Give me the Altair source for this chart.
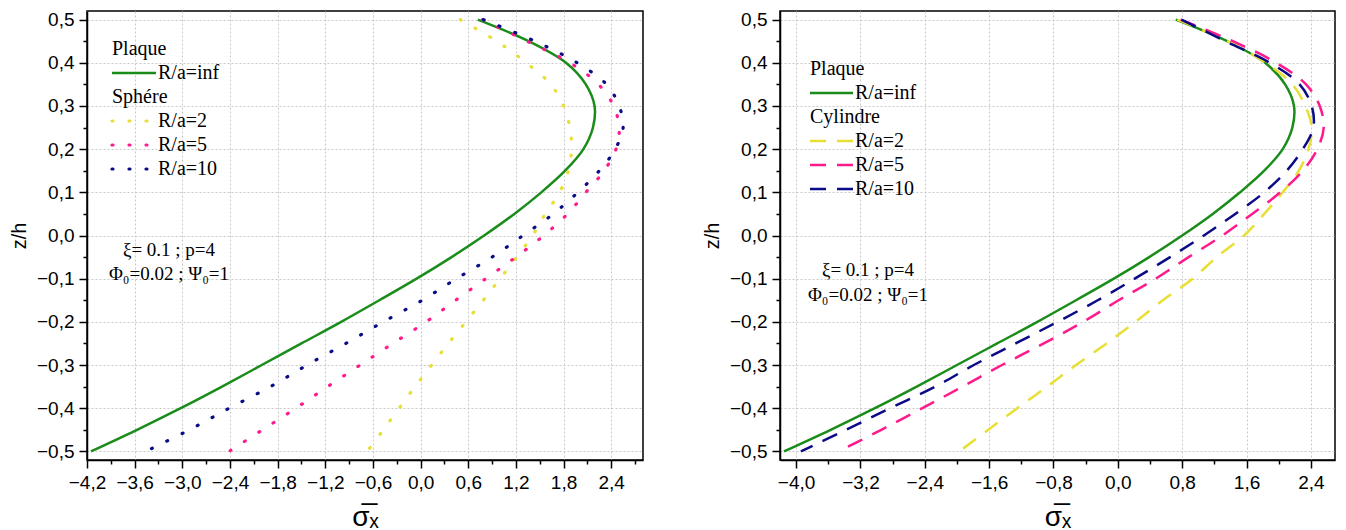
import altair as alt
import pandas as pd

# ---------------- data ----------------
z = [0.5, 0.45, 0.4, 0.35, 0.3, 0.25, 0.2, 0.15, 0.1, 0.05, 0.0,
     -0.05, -0.1, -0.15, -0.2, -0.25, -0.3, -0.35, -0.4, -0.45, -0.5]

plaque_inf = [0.72, 1.36, 1.83, 2.08, 2.19, 2.17, 2.05, 1.82, 1.52, 1.18, 0.80,
              0.39, -0.05, -0.52, -1.00, -1.50, -2.00, -2.50, -3.02, -3.57, -4.15]

sphere_2 = [0.50, 0.96, 1.33, 1.64, 1.80, 1.88, 1.90, 1.86, 1.75, 1.57, 1.41,
            1.21, 1.00, 0.79, 0.57, 0.35, 0.14, -0.07, -0.27, -0.47, -0.67]
sphere_5 = [0.78, 1.34, 1.88, 2.24, 2.43, 2.50, 2.46, 2.31, 2.08, 1.85, 1.55,
            1.20, 0.82, 0.44, 0.07, -0.35, -0.76, -1.17, -1.57, -1.99, -2.41]
sphere_10 = [0.79, 1.44, 1.97, 2.34, 2.50, 2.55, 2.45, 2.25, 1.98, 1.67, 1.29,
             0.90, 0.45, 0.02, -0.47, -0.94, -1.43, -1.89, -2.41, -2.91, -3.46]

cyl_2 = [0.74, 1.36, 1.84, 2.17, 2.33, 2.41, 2.37, 2.25, 2.05, 1.82, 1.57,
         1.23, 0.93, 0.56, 0.22, -0.14, -0.52, -0.88, -1.25, -1.61, -1.97]
cyl_5 = [0.78, 1.43, 1.97, 2.34, 2.51, 2.56, 2.48, 2.30, 2.02, 1.67, 1.30,
         0.88, 0.47, 0.01, -0.43, -0.92, -1.44, -1.93, -2.43, -2.94, -3.47]
cyl_10 = [0.79, 1.34, 1.89, 2.26, 2.41, 2.43, 2.30, 2.10, 1.82, 1.46, 1.07,
          0.65, 0.21, -0.25, -0.75, -1.27, -1.79, -2.27, -2.83, -3.38, -3.94]

labels = ["R/a=inf", "R/a=2", "R/a=5", "R/a=10"]
colors = ["#1a8c1a", "#e8df35", "#ff1a8c", "#0b0b88"]

x_ticks_left = [round(-4.2 + 0.3 * i, 1) for i in range(24)]
x_ticks_right = [round(-4.0 + 0.4 * i, 1) for i in range(17)]
y_ticks = [round(-0.5 + 0.05 * i, 2) for i in range(21)]

SANS = "Liberation Sans"
SERIF = "Liberation Serif"


def make_axis(values, test, fmt_title, title_pad, is_x):
    return alt.Axis(
        values=values,
        labelExpr=f"({test}) ? replace(format(datum.value, '.1f'), '.', ',') : ''",
        tickSize={"condition": {"test": test, "value": 8}, "value": 4},
        grid=True,
        gridDash=[2, 2],
        gridColor="#c8c8c8",
        gridWidth=1,
        gridOpacity={"condition": {"test": test, "value": 1}, "value": 0},
        domainColor="black",
        domainWidth=1.5,
        tickColor="black",
        tickWidth=1.5,
        labelFont=SANS,
        labelFontSize=19,
        labelColor="black",
        labelPadding=5,
        labelOverlap=False,
        labelFlush=False,
        title=fmt_title,
        titleFont=SANS,
        titleFontSize=28 if is_x else 20,
        titleFontWeight="normal",
        titleColor="black",
        titlePadding=title_pad,
    )


def panel(series, dash, x_domain, x_ticks, x_test, width, group, leg, ann):
    xenc = alt.X("sx:Q", scale=alt.Scale(domain=x_domain, nice=False, zero=False),
                 axis=make_axis(x_ticks, x_test, "σ̅ₓ", 11, True))
    yenc = alt.Y("z:Q", scale=alt.Scale(domain=[-0.52, 0.52], nice=False, zero=False),
                 axis=make_axis(y_ticks, "abs(round(datum.value*100)) % 10 == 0", "z/h", 7, False))
    dotted = dash[0] < 3
    layers = []
    for k, vals in enumerate(series):
        df = pd.DataFrame({"z": z, "sx": vals, "i": list(range(len(z)))})
        if k == 0:
            mk = alt.Chart(df).mark_line(color=colors[0], strokeWidth=2.5,
                                         interpolate="catmull-rom")
        else:
            mk = alt.Chart(df).mark_line(color=colors[k], strokeWidth=3.2 if dotted else 2.5,
                                         strokeDash=dash, strokeCap="round" if dotted else "butt",
                                         interpolate="catmull-rom")
        layers.append(mk.encode(x=xenc, y=yenc, order="i:Q"))

    # legend (drawn inside the plot, in pixel space)
    lx, ly0, lx2, dy = leg
    base = alt.Chart(pd.DataFrame({"a": [0]}))
    for t, yy in (("Plaque", ly0), (group, ly0 + 2 * dy)):
        layers.append(base.mark_text(font=SERIF, fontSize=20, align="left", baseline="middle",
                                     color="black").encode(x=alt.value(lx), y=alt.value(yy),
                                                           text=alt.value(t)))
    rows = [ly0 + dy, ly0 + 3 * dy, ly0 + 4 * dy, ly0 + 5 * dy]
    for k, yy in enumerate(rows):
        if k == 0:
            r = base.mark_rule(color=colors[0], strokeWidth=2.5)
        else:
            r = base.mark_rule(color=colors[k], strokeWidth=3.2 if dotted else 2.5,
                               strokeDash=dash, strokeCap="round" if dotted else "butt")
        layers.append(r.encode(x=alt.value(lx), x2=alt.value(lx2), y=alt.value(yy)))
        layers.append(base.mark_text(font=SERIF, fontSize=20, align="left", baseline="middle",
                                     color="black").encode(x=alt.value(lx2 + 2), y=alt.value(yy),
                                                           text=alt.value(labels[k])))
    ax, ay1, ay2 = ann
    layers.append(base.mark_text(font=SERIF, fontSize=19, align="center", baseline="middle",
                                 color="black").encode(x=alt.value(ax), y=alt.value(ay1),
                                                       text=alt.value("ξ= 0.1 ; p=4")))
    layers.append(base.mark_text(font=SERIF, fontSize=19, align="center", baseline="middle",
                                 color="black").encode(x=alt.value(ax), y=alt.value(ay2),
                                                       text=alt.value("Φ₀=0.02 ; Ψ₀=1")))
    return alt.layer(*layers).properties(width=width, height=449)


left = panel([plaque_inf, sphere_2, sphere_5, sphere_10], [1, 16],
             [-4.2, 2.8], x_ticks_left, "abs(round(datum.value*10)) % 6 == 0", 556,
             "Sphére", (25, 38, 69, 24), (82, 239, 263))
right = panel([plaque_inf, cyl_2, cyl_5, cyl_10], [16, 11],
              [-4.2, 2.7], x_ticks_right, "abs(round(datum.value*10)) % 8 == 0", 555,
              "Cylindre", (30, 58, 73, 24), (88, 259, 284))

chart = alt.hconcat(left, right, spacing=57).properties(
    padding={"left": 8, "top": 9, "right": 5, "bottom": 5},
    background="white",
).configure_view(stroke="black", strokeWidth=1.5)

chart.save("out.html", embed_options={"renderer": "svg", "actions": False})
